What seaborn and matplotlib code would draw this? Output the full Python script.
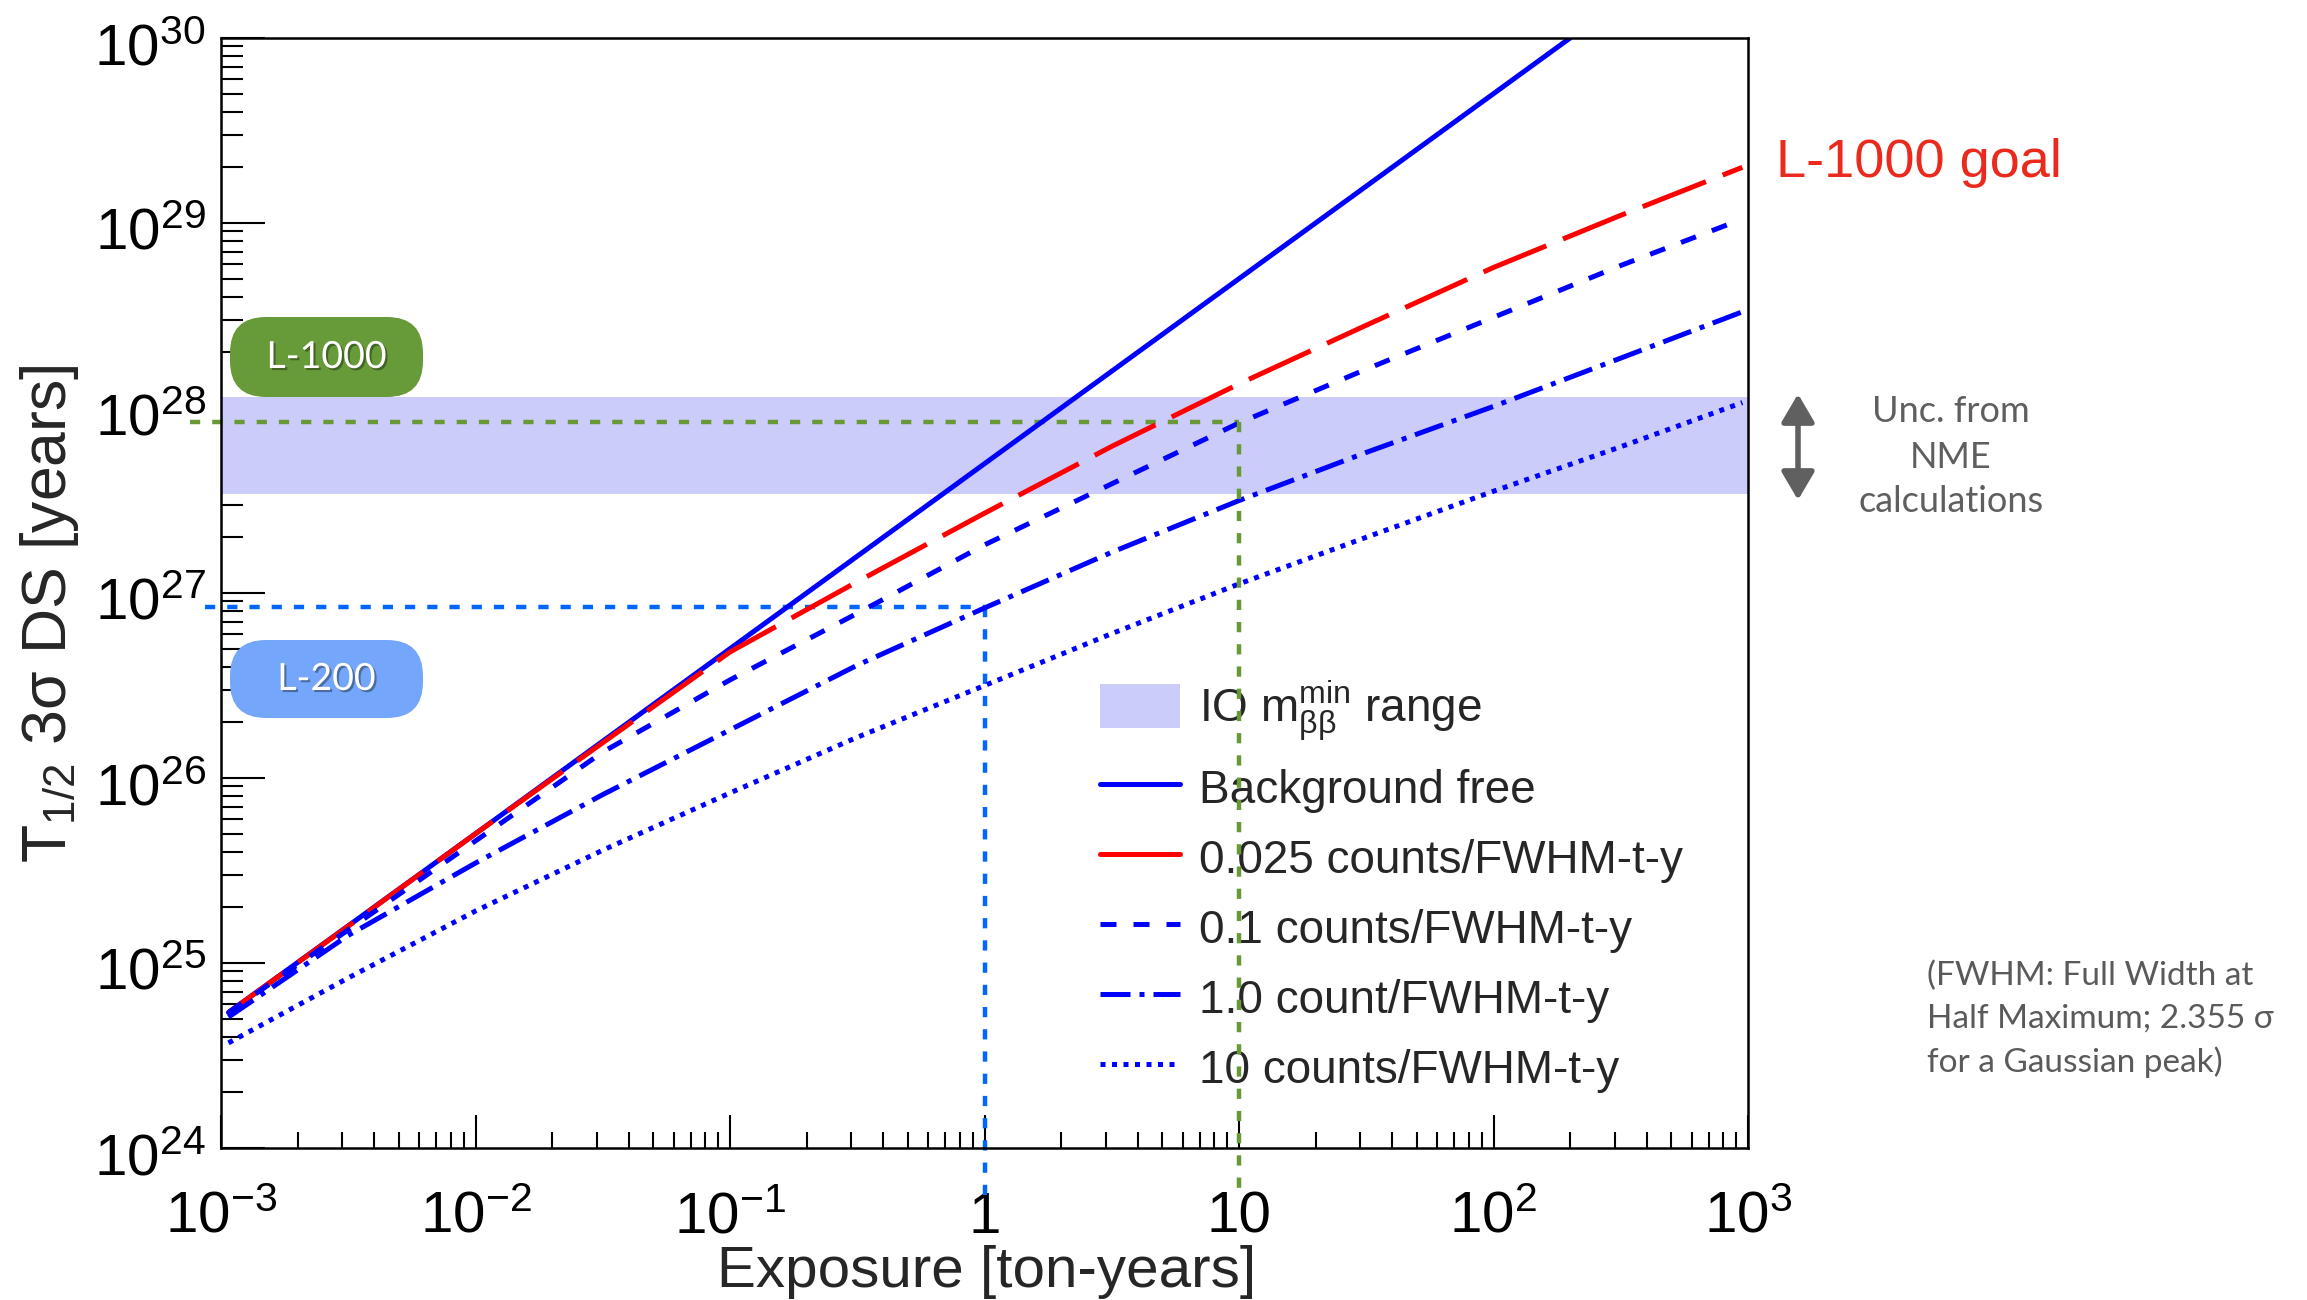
import numpy as np
import pandas as pd
import matplotlib
matplotlib.use("Agg")
import matplotlib.pyplot as plt
import matplotlib.transforms as mtransforms
import seaborn as sns
from matplotlib.lines import Line2D
from matplotlib.patches import Patch, FancyBboxPatch, FancyArrowPatch
import matplotlib.patheffects as pe
from matplotlib.ticker import LogLocator, NullFormatter

# ---------------- data ----------------
exposure = [1.07e-3, 3.16e-3, 1e-2, 3.16e-2, 0.1, 0.316, 1, 3.16, 10, 31.6, 100, 316, 950]
bf_exposure = [1.07e-3, 1e-2, 0.1, 1, 10, 100, 200]
bf_halflife = [5.4e24, 5.0e25, 5.0e26, 5.0e27, 5.0e28, 5.0e29, 1.0e30]
bkg_0025 = [5.4e24, 1.58e25, 5.0e25, 1.55e26, 4.8e26, 1.15e27, 2.7e27, 6.2e27,
            1.35e28, 2.8e28, 5.75e28, 1.1e29, 2.0e29]
bkg_01 = [5.4e24, 1.51e25, 4.57e25, 1.38e26, 3.39e26, 7.76e26, 1.82e27, 3.89e27,
          8.3e27, 1.62e28, 3.09e28, 5.89e28, 1.05e29]
bkg_1 = [5.1e24, 1.41e25, 3.47e25, 8.13e25, 1.82e26, 4.07e26, 8.3e26, 1.66e27,
         3.16e27, 5.75e27, 1.02e28, 1.86e28, 3.31e28]
bkg_10 = [3.7e24, 8.3e24, 1.91e25, 4.07e25, 8.3e25, 1.66e26, 3.16e26, 6.03e26,
          1.12e27, 2.0e27, 3.55e27, 6.17e27, 1.07e28]

series_labels = ["Background free", "0.025 counts/FWHM-t-y", "0.1 counts/FWHM-t-y",
                 "1.0 count/FWHM-t-y", "10 counts/FWHM-t-y"]
band_label = r"IO m$_{\mathrm{ββ}}^{\mathrm{min}}$ range"
io_band = [3.43e27, 1.15e28]

# guide lines: (exposure, half-life) for L-200 and L-1000
l200_point = [1.0, 8.4e26]
l1000_point = [10.0, 8.4e27]

xticks = [1e-3, 1e-2, 1e-1, 1, 10, 1e2, 1e3]
xticklabels = [r"$\mathdefault{10^{-3}}$", r"$\mathdefault{10^{-2}}$", r"$\mathdefault{10^{-1}}$",
               "1", "10", r"$\mathdefault{10^{2}}$", r"$\mathdefault{10^{3}}$"]
yticks = [1e24, 1e25, 1e26, 1e27, 1e28, 1e29, 1e30]
yticklabels = [r"$\mathdefault{10^{%d}}$" % p for p in range(24, 31)]

# ---------------- styling ----------------
sns.set_style("white")
plt.rcParams['font.family'] = ['Liberation Sans', 'DejaVu Sans']
plt.rcParams['mathtext.fontset'] = 'custom'
plt.rcParams['mathtext.rm'] = 'Liberation Sans'
plt.rcParams['mathtext.it'] = 'Liberation Sans:italic'
plt.rcParams['mathtext.bf'] = 'Liberation Sans:bold'

W, H = 2307, 1300
fig = plt.figure(figsize=(W / 100, H / 100), dpi=100)
ax_l, ax_r, ax_t, ax_b = 221, 1748, 38, 1148
ax = fig.add_axes([ax_l / W, 1 - ax_b / H, (ax_r - ax_l) / W, (ax_b - ax_t) / H])
ax.set_xscale("log")
ax.set_yscale("log")

blue = "#0000ff"
red = "#ff0000"
band_color = "#ccccfb"
lw = 3.6
dash_map = {
    series_labels[0]: "",
    series_labels[1]: (13.6, 3.6),
    series_labels[2]: (3.2, 3.4),
    series_labels[3]: (6, 1.8, 1, 1.8),
    series_labels[4]: (1, 1.3),
}
pal = {series_labels[0]: blue, series_labels[1]: red, series_labels[2]: blue,
       series_labels[3]: blue, series_labels[4]: blue}

frames = [pd.DataFrame({"exposure": bf_exposure, "halflife": bf_halflife, "series": series_labels[0]})]
for lab, vals in zip(series_labels[1:], [bkg_0025, bkg_01, bkg_1, bkg_10]):
    frames.append(pd.DataFrame({"exposure": exposure, "halflife": vals, "series": lab}))
df = pd.concat(frames, ignore_index=True)

# band
ax.axhspan(io_band[0], io_band[1], color=band_color, lw=0, zorder=1)

# guide lines
x_left_blue, x_left_green = 8.65e-4, 7.55e-4
y_bot_blue, y_bot_green = 5.4e23, 5.9e23
gblue = "#0066ff"
ggreen = "#689936"
glw = 3.2
gd = (2.3, 2.7)
ax.plot([x_left_blue, l200_point[0]], [l200_point[1], l200_point[1]], color=gblue, lw=glw,
        dashes=gd, clip_on=False, zorder=1.5)
ax.plot([l200_point[0], l200_point[0]], [l200_point[1], y_bot_blue], color=gblue, lw=glw,
        dashes=gd, clip_on=False, zorder=1.5)
ax.plot([x_left_green, l1000_point[0]], [l1000_point[1], l1000_point[1]], color=ggreen, lw=glw,
        dashes=gd, clip_on=False, zorder=1.6)
ax.plot([l1000_point[0], l1000_point[0]], [l1000_point[1], y_bot_green], color=ggreen, lw=glw,
        dashes=gd, clip_on=False, zorder=6)

sns.lineplot(data=df, x="exposure", y="halflife", hue="series", style="series",
             hue_order=series_labels, style_order=series_labels,
             palette=pal, dashes=dash_map, linewidth=lw, estimator=None, sort=False,
             legend=False, ax=ax, zorder=3)

ax.set_xlim(1e-3, 1e3)
ax.set_ylim(1e24, 1e30)
ax.set_xlabel("")
ax.set_ylabel("")

# ticks
ax.set_xticks(xticks)
ax.set_xticklabels(xticklabels)
ax.set_yticks(yticks)
ax.set_yticklabels(yticklabels)
ax.xaxis.set_minor_locator(LogLocator(base=10, subs=np.arange(2, 10), numticks=50))
ax.yaxis.set_minor_locator(LogLocator(base=10, subs=np.arange(2, 10), numticks=50))
ax.xaxis.set_minor_formatter(NullFormatter())
ax.yaxis.set_minor_formatter(NullFormatter())
ax.tick_params(axis="both", which="both", direction="in", color="black", width=1.5,
               bottom=True, left=True, top=False, right=False,
               labelsize=42, labelcolor="black")
ax.tick_params(axis="x", which="major", length=24, pad=61)
ax.tick_params(axis="x", which="minor", length=11.5)
ax.tick_params(axis="y", which="major", length=32, pad=11)
ax.tick_params(axis="y", which="minor", length=16)
plt.setp(ax.get_xticklabels(), va="baseline")
ydown = mtransforms.ScaledTranslation(0, -6 / 100, fig.dpi_scale_trans)
for lab in ax.get_yticklabels():
    lab.set_transform(lab.get_transform() + ydown)
for s in ax.spines.values():
    s.set_color("black")
    s.set_linewidth(1.8)
    s.set_zorder(7)

# axis titles
fig.text(987 / W, 1 - 1272 / H, "Exposure [ton-years]", fontsize=42, ha="center", va="center")
fig.text(50 / W, 1 - 614 / H, r"T$_{1/2}$ 3σ DS [years]", fontsize=45, ha="center",
         va="center", rotation=90)

# legend
handles = [
    Patch(facecolor=band_color, edgecolor="none"),
    Line2D([], [], color=blue, lw=lw),
    Line2D([], [], color=red, lw=lw),
    Line2D([], [], color=blue, lw=lw, dashes=(3.2, 3.4)),
    Line2D([], [], color=blue, lw=lw, dashes=(6, 1.8, 1, 1.8)),
    Line2D([], [], color=blue, lw=lw, dashes=(1, 1.3)),
]
leg = ax.legend(handles, [band_label] + series_labels, loc="upper left",
                bbox_to_anchor=((1100 - ax_l) / (ax_r - ax_l), (ax_b - 678) / (ax_b - ax_t)),
                frameon=False, fontsize=33, handlelength=1.75, handleheight=1.1,
                handletextpad=0.4, labelspacing=0.49, borderpad=0, borderaxespad=0)
leg.set_zorder(5)

# badges
def badge(x0, y0, x1, y1, color, text):
    box = FancyBboxPatch((x0 / 100, (H - y1) / 100), (x1 - x0) / 100, (y1 - y0) / 100,
                         boxstyle="round,pad=0,rounding_size=0.36", transform=fig.dpi_scale_trans,
                         facecolor=color, edgecolor="none", zorder=8)
    fig.add_artist(box)
    fig.text((x0 + x1) / 2 / W, 1 - (y0 + y1) / 2 / H, text, fontsize=27, color="white",
             family=["Lato", "DejaVu Sans"], ha="center", va="center", zorder=9,
             path_effects=[pe.withSimplePatchShadow(offset=(1.5, -1.5), shadow_rgbFace="black",
                                                    alpha=0.35)])

badge(230, 317, 423, 397, "#679a38", "L-1000")
badge(230, 640, 423, 718, "#74a7fb", "L-200")

# right-hand annotations
fig.text(1776 / W, 1 - 163 / H, "L-1000 goal", fontsize=39, color="#ea2a1c", ha="left", va="center")

arrow = FancyArrowPatch((1798 / 100, (H - 394) / 100), (1798 / 100, (H - 500) / 100),
                        transform=fig.dpi_scale_trans,
                        arrowstyle="<|-|>,head_length=0.34,head_width=0.2", mutation_scale=50,
                        color="#606060", lw=4, shrinkA=0, shrinkB=0)
fig.add_artist(arrow)
for txt, yy in zip(["Unc. from", "NME", "calculations"], [412, 458, 502]):
    fig.text(1951 / W, 1 - yy / H, txt, fontsize=26, color="#5f5f5f",
             family=["Lato", "DejaVu Sans"], ha="center", va="center")

for txt, yy in zip(["(FWHM: Full Width at", "Half Maximum; 2.355 σ", "for a Gaussian peak)"],
                   [985, 1028, 1072]):
    fig.text(1927 / W, 1 - yy / H, txt, fontsize=24, color="#5a5a5a",
             family=["Lato", "DejaVu Sans"], ha="left", va="baseline")

fig.savefig("out.png", dpi=100)
